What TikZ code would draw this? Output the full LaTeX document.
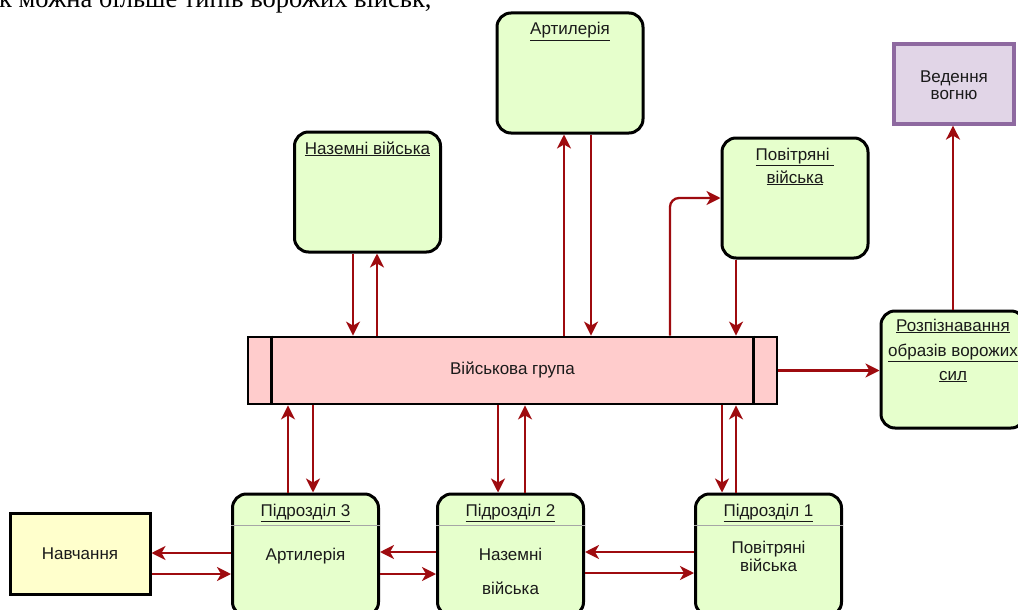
\documentclass[tikz,border=0pt]{standalone}
\usepackage{fontspec}
\setmainfont{Liberation Sans}
\newfontfamily\serifface{Liberation Serif}
\usetikzlibrary{arrows.meta}
\definecolor{objfill}{HTML}{E6FFCC}
\definecolor{grpfill}{HTML}{FFCCCC}
\definecolor{navfill}{HTML}{FFFFCC}
\definecolor{vedfill}{HTML}{E1D5E7}
\definecolor{vedline}{HTML}{8E69A0}
\definecolor{arrred}{HTML}{9E0B0F}
\definecolor{txtcol}{HTML}{1A1A1A}
\definecolor{sepcol}{HTML}{A6A6A6}
\newcommand{\lbl}{\fontsize{17}{20}\selectfont}
\begin{document}
\begin{tikzpicture}[x=1pt,y=-1pt,
  obj/.style={draw=black, line width=3pt, fill=objfill, rounded corners=14pt,
    minimum width=146pt, minimum height=120pt, inner sep=0pt},
  sub/.style={obj, minimum height=122pt},
  plainbox/.style={draw=black, line width=3pt, inner sep=0pt},
  ttl/.style={font=\lbl, text=txtcol, inner sep=0pt, anchor=base},
  sepline/.style={draw=sepcol, line width=1pt},
  arr/.style={draw=arrred, line width=2.3pt, -{Stealth[length=14pt,width=14pt,inset=4pt]}},
]
\clip (0,0) rectangle (1018,610);
\useasboundingbox (0,0) rectangle (1018,610);

% cropped running text at the top
\node[anchor=base west, inner sep=0pt, font=\serifface\fontsize{26.5}{30}\selectfont] (toptext) at (-1,8) {к можна більше типів ворожих військ,};

% boxes
\node[obj] (art) at (570,73) {};
\node[obj] (naz) at (367.5,192) {};
\node[obj] (pov) at (795,198) {};
\node[plainbox, draw=vedline, line width=3.2pt, fill=vedfill, minimum width=120pt, minimum height=80pt] (ved) at (954,84) {};
\node[plainbox, line width=2.8pt, fill=grpfill, minimum width=529pt, minimum height=67pt] (grp) at (512.5,370.5) {};
\draw[line width=2.8pt] ([xshift=25pt]grp.north west) -- ([xshift=25pt]grp.south west);
\draw[line width=2.8pt] ([xshift=-25pt]grp.north east) -- ([xshift=-25pt]grp.south east);
\node[obj, minimum width=144pt, minimum height=117pt] (roz) at (953,369.5) {};
\node[sub] (p3) at (305.5,555) {};
\node[sub] (p2) at (510.5,555) {};
\node[sub] (p1) at (768.5,555) {};
\node[plainbox, fill=navfill, minimum width=140pt, minimum height=81pt] (nav) at (80,553.5) {};

% separators in the sub-units
\foreach \b in {p3,p2,p1}
  \draw[sepline] ([yshift=-33pt]\b.north west) -- ([yshift=-33pt]\b.north east);

% texts
\node[ttl] (artT) at (570,35) {\underline{Артилерія}};
\node[ttl] (nazT) at (367.5,154) {\underline{Наземні війська}};
\node[ttl] (povT1) at (795,160) {\underline{Повітряні\ }};
\node[ttl] (povT2) at (795,183) {\underline{війська}};
\node[ttl] (vedT1) at (954,82) {Ведення};
\node[ttl] (vedT2) at (954,99.5) {вогню};
\node[ttl] (grpT) at (512.5,374.5) {Військова група};
\node[ttl] (rozT1) at (953,331) {\underline{Розпізнавання}};
\node[ttl] (rozT2) at (953,356) {\underline{образів ворожих}};
\node[ttl] (rozT3) at (953,380) {\underline{сил}};
\node[ttl] (p3T) at (305.5,516) {\underline{Підрозділ 3}};
\node[ttl] (p2T) at (510.5,516) {\underline{Підрозділ 2}};
\node[ttl] (p1T) at (768.5,516) {\underline{Підрозділ 1}};
\node[ttl] (p3B) at (305.5,560) {Артилерія};
\node[ttl] (p2B1) at (510.5,560) {Наземні};
\node[ttl] (p2B2) at (510.5,594) {війська};
\node[ttl] (p1B1) at (768.5,553) {Повітряні};
\node[ttl] (p1B2) at (768.5,571) {війська};
\node[ttl] (navT) at (80,559) {Навчання};

% connectors: top boxes <-> group
\draw[arr] ([xshift=-14.5pt]naz.south) -- ([xshift=-14.5pt]naz.south |- grp.north);
\draw[arr] ([xshift=9.5pt]naz.south |- grp.north) -- ([xshift=9.5pt]naz.south);
\draw[arr] ([xshift=-6pt]art.south |- grp.north) -- ([xshift=-6pt]art.south);
\draw[arr] ([xshift=21pt]art.south) -- ([xshift=21pt]art.south |- grp.north);
\draw[arr, rounded corners=9pt] ([xshift=157.5pt]grp.north) |- (pov.west);
\draw[arr] ([xshift=-59pt]pov.south) -- ([xshift=-59pt]pov.south |- grp.north);
\draw[arr] (grp.east) -- (grp.east -| roz.west);
\draw[arr] (roz.north) -- (roz.north |- ved.south);

% group <-> sub-units
\draw[arr] ([xshift=-17.5pt]p3.north) -- ([xshift=-17.5pt]p3.north |- grp.south);
\draw[arr] ([xshift=7.5pt]p3.north |- grp.south) -- ([xshift=7.5pt]p3.north);
\draw[arr] ([xshift=-12.5pt]p2.north |- grp.south) -- ([xshift=-12.5pt]p2.north);
\draw[arr] ([xshift=14.5pt]p2.north) -- ([xshift=14.5pt]p2.north |- grp.south);
\draw[arr] ([xshift=-46.5pt]p1.north |- grp.south) -- ([xshift=-46.5pt]p1.north);
\draw[arr] ([xshift=-32.5pt]p1.north) -- ([xshift=-32.5pt]p1.north |- grp.south);

% horizontal links at the bottom
\draw[arr] ([yshift=2pt]p3.west) -- ([yshift=2pt]p3.west -| nav.east);
\draw[arr] ([yshift=-19pt]p3.west -| nav.east) -- ([yshift=-19pt]p3.west);
\draw[arr] ([yshift=3pt]p2.west) -- ([yshift=3pt]p2.west -| p3.east);
\draw[arr] ([yshift=-19pt]p3.east) -- ([yshift=-19pt]p3.east -| p2.west);
\draw[arr] ([yshift=3pt]p1.west) -- ([yshift=3pt]p1.west -| p2.east);
\draw[arr] ([yshift=-18pt]p2.east) -- ([yshift=-18pt]p2.east -| p1.west);
\end{tikzpicture}
\end{document}
